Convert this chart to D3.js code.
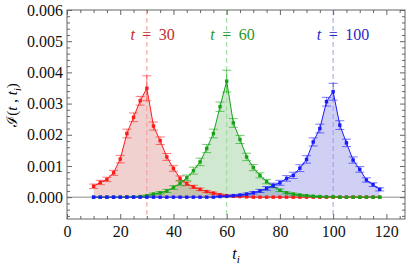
<!DOCTYPE html>
<html>
<head>
<meta charset="utf-8">
<script src="https://cdn.jsdelivr.net/npm/d3@7"></script>
<style>
body { margin: 0; background: #fff; }
text { font-family: "Liberation Serif", "Times New Roman", serif; }
</style>
</head>
<body>
<svg id="chart" width="407" height="265"></svg>
<script>
// values
var ti = [10, 12.5, 15, 17.5, 20, 22.5, 25, 27.5, 30, 32.5, 35, 37.5, 40, 42.5, 45, 47.5, 50, 52.5, 55, 57.5,
          60, 62.5, 65, 67.5, 70, 72.5, 75, 77.5, 80, 82.5, 85, 87.5, 90, 92.5, 95, 97.5, 100, 102.5, 105, 107.5,
          110, 112.5, 115, 117.5]

var redValues = [0.00035, 0.00047, 0.00057, 0.00078, 0.00122, 0.00204, 0.00256, 0.00309, 0.00349, 0.00228,
                 0.00181, 0.00129, 0.00092, 0.00060, 0.00043, 0.00033, 0.00025, 0.00018, 0.00013, 0.00008,
                 0.00005, 0.00003, 0.00002, 0.00001, 0, 0, 0, 0, 0, 0,
                 0, 0, 0, 0, 0, 0, 0, 0, 0, 0,
                 0, 0, 0, 0]
var redErrors = [0.00007, 0.00007, 0.00007, 0.00008, 0.00012, 0.00014, 0.00014, 0.00014, 0.00040, 0.00013,
                 0.00012, 0.00011, 0.00009, 0.00008, 0.00006, 0.00005, 0.00004, 0.00003, 0.00003, 0.00002,
                 0.00002, 0.00001, 0.00001, 0, 0, 0, 0, 0, 0, 0,
                 0, 0, 0, 0, 0, 0, 0, 0, 0, 0,
                 0, 0, 0, 0]

var greenValues = [0, 0, 0, 0, 0, 0.00001, 0.00001, 0.00002, 0.00005, 0.00010,
                   0.00014, 0.00020, 0.00031, 0.00045, 0.00062, 0.00085, 0.00113, 0.00156, 0.00204, 0.00290,
                   0.00372, 0.00238, 0.00185, 0.00129, 0.00095, 0.00070, 0.00050, 0.00035, 0.00022, 0.00014,
                   0.00010, 0.00007, 0.00005, 0.00003, 0.00002, 0.00001, 0.00001, 0, 0, 0,
                   0, 0, 0, 0]
var greenErrors = [0, 0, 0, 0, 0, 0, 0, 0.00001, 0.00002, 0.00003,
                   0.00004, 0.00005, 0.00006, 0.00008, 0.00009, 0.00011, 0.00012, 0.00013, 0.00014, 0.00015,
                   0.00035, 0.00014, 0.00013, 0.00012, 0.00010, 0.00008, 0.00007, 0.00005, 0.00004, 0.00003,
                   0.00003, 0.00002, 0.00002, 0.00001, 0.00001, 0, 0, 0, 0, 0,
                   0, 0, 0, 0]

var blueValues = [0, 0, 0, 0, 0, 0, 0, 0, 0, 0,
                  0, 0, 0, 0, 0, 0, 0, 0, 0, 0.00002,
                  0.00003, 0.00005, 0.00007, 0.00010, 0.00014, 0.00020, 0.00028, 0.00038, 0.00046, 0.00060,
                  0.00070, 0.00093, 0.00121, 0.00177, 0.00220, 0.00306, 0.00338, 0.00231, 0.00174, 0.00119,
                  0.00089, 0.00055, 0.00040, 0.00025]
var blueErrors = [0, 0, 0, 0, 0, 0, 0, 0, 0, 0,
                  0, 0, 0, 0, 0, 0, 0, 0, 0, 0.00001,
                  0.00001, 0.00002, 0.00002, 0.00003, 0.00004, 0.00005, 0.00006, 0.00007, 0.00008, 0.00009,
                  0.00010, 0.00011, 0.00012, 0.00013, 0.00014, 0.00014, 0.00027, 0.00014, 0.00012, 0.00010,
                  0.00009, 0.00007, 0.00006, 0.00005]

var markerTimes = [30, 60, 100]
var markerLabels = ["30", "60", "100"]
var xTicks = [0, 20, 40, 60, 80, 100, 120]
var yTicks = [0, 0.001, 0.002, 0.003, 0.004, 0.005, 0.006]

var dimensions = {
    width: 407,
    height: 265,
    margin: { top: 10, bottom: 46, right: 2, left: 67 }
}

var series = [
    { values: redValues,   errors: redErrors,   line: "#ff1a1a", fill: "rgba(190,40,40,0.22)",  err: "rgba(255,30,30,0.6)",  dash: "#f29a9a", text: "#c42a2a" },
    { values: greenValues, errors: greenErrors, line: "#16a316", fill: "rgba(40,150,40,0.22)", err: "rgba(20,170,20,0.6)",  dash: "#96d896", text: "#2a962a" },
    { values: blueValues,  errors: blueErrors,  line: "#1a1aff", fill: "rgba(40,40,210,0.22)", err: "rgba(30,30,255,0.6)",  dash: "#9a9af2", text: "#2a2ac4" }
]

var svg = d3.select("#chart")

var plotLeft = dimensions.margin.left
var plotRight = dimensions.width - dimensions.margin.right
var plotTop = dimensions.margin.top
var plotBottom = dimensions.height - dimensions.margin.bottom

var xScale = d3.scaleLinear().domain([0, 127]).range([plotLeft, plotRight])
var yScale = d3.scaleLinear().domain([-0.0007, 0.006]).range([plotBottom, plotTop])

// fills
var area = d3.area()
             .x((d, i) => xScale(ti[i]))
             .y0(yScale(0))
             .y1(d => yScale(d))

series.forEach(s => {
    svg.append("path")
       .datum(s.values)
       .attr("d", area)
       .attr("fill", s.fill)
})

// zero line
svg.append("line")
   .attr("x1", plotLeft).attr("x2", plotRight)
   .attr("y1", yScale(0)).attr("y2", yScale(0))
   .attr("stroke", "#8a8a8a")
   .attr("stroke-width", 1)

// dashed markers
markerTimes.forEach((t, k) => {
    svg.append("line")
       .attr("x1", xScale(t)).attr("x2", xScale(t))
       .attr("y1", plotTop).attr("y2", plotBottom)
       .attr("stroke", series[k].dash)
       .attr("stroke-width", 1)
       .attr("stroke-dasharray", "5,3")
})

var line = d3.line()
             .x((d, i) => xScale(ti[i]))
             .y(d => yScale(d))

series.forEach(s => {
    var g = svg.append("g")
    var bars = s.values.map((v, i) => ({ x: ti[i], v: v, e: s.errors[i] })).filter(d => d.e > 0)

    g.selectAll("line.bar")
     .data(bars)
     .enter()
     .append("line")
     .attr("x1", d => xScale(d.x)).attr("x2", d => xScale(d.x))
     .attr("y1", d => yScale(d.v - d.e)).attr("y2", d => yScale(d.v + d.e))
     .attr("stroke", s.err)

    ;[-1, 1].forEach(sign => {
        g.selectAll(null)
         .data(bars)
         .enter()
         .append("line")
         .attr("x1", d => xScale(d.x) - 4.5).attr("x2", d => xScale(d.x) + 4.5)
         .attr("y1", d => yScale(d.v + sign * d.e)).attr("y2", d => yScale(d.v + sign * d.e))
         .attr("stroke", s.err)
    })

    g.append("path")
     .datum(s.values)
     .attr("d", line)
     .attr("fill", "none")
     .attr("stroke", s.line)
     .attr("stroke-width", 1)

    g.selectAll("rect")
     .data(s.values)
     .enter()
     .append("rect")
     .attr("x", (d, i) => xScale(ti[i]) - 1.7)
     .attr("y", d => yScale(d) - 1.7)
     .attr("width", 3.4)
     .attr("height", 3.4)
     .attr("fill", s.line)
})

// t = ... labels
markerTimes.forEach((t, k) => {
    var cx = xScale(t)
    var cy = 40
    var col = series[k].text
    svg.append("text").attr("x", cx - 12).attr("y", cy).attr("text-anchor", "end")
       .style("font-style", "italic").style("font-size", "16px").attr("fill", col).text("t")
    svg.append("text").attr("x", cx).attr("y", cy).attr("text-anchor", "middle")
       .style("font-size", "16px").attr("fill", col).text("=")
    svg.append("text").attr("x", cx + 12).attr("y", cy).attr("text-anchor", "start")
       .style("font-size", "16px").attr("fill", col).text(markerLabels[k])
})

// axes with inward ticks
function styleAxis(g) {
    g.select(".domain").remove()
    g.selectAll("line").attr("stroke", "#666")
    g.selectAll("text").style("font-size", "16px").style("font-family", "Liberation Serif, serif").attr("fill", "#111")
}

var xMinor = d3.range(0, 128, 5).filter(v => v % 20 != 0)
var yMinor = d3.range(-6, 61, 2).map(v => v / 10000).filter(v => Math.abs(v * 1000 - Math.round(v * 1000)) > 1e-9)

svg.append("g").attr("transform", `translate(0,${plotBottom})`)
   .call(d3.axisBottom(xScale).tickValues(xTicks).tickSizeInner(-5).tickSizeOuter(0).tickPadding(7).tickFormat(d3.format("d")))
   .call(styleAxis)
svg.append("g").attr("transform", `translate(0,${plotBottom})`)
   .call(d3.axisBottom(xScale).tickValues(xMinor).tickSizeInner(-3).tickSizeOuter(0).tickFormat(""))
   .call(styleAxis)
svg.append("g").attr("transform", `translate(0,${plotTop})`)
   .call(d3.axisTop(xScale).tickValues(xTicks).tickSizeInner(-5).tickSizeOuter(0).tickFormat(""))
   .call(styleAxis)
svg.append("g").attr("transform", `translate(0,${plotTop})`)
   .call(d3.axisTop(xScale).tickValues(xMinor).tickSizeInner(-3).tickSizeOuter(0).tickFormat(""))
   .call(styleAxis)

svg.append("g").attr("transform", `translate(${plotLeft},0)`)
   .call(d3.axisLeft(yScale).tickValues(yTicks).tickSizeInner(-5).tickSizeOuter(0).tickPadding(4).tickFormat(d3.format(".3f")))
   .call(styleAxis)
svg.append("g").attr("transform", `translate(${plotLeft},0)`)
   .call(d3.axisLeft(yScale).tickValues(yMinor).tickSizeInner(-3).tickSizeOuter(0).tickFormat(""))
   .call(styleAxis)
svg.append("g").attr("transform", `translate(${plotRight},0)`)
   .call(d3.axisRight(yScale).tickValues(yTicks).tickSizeInner(-5).tickSizeOuter(0).tickFormat(""))
   .call(styleAxis)
svg.append("g").attr("transform", `translate(${plotRight},0)`)
   .call(d3.axisRight(yScale).tickValues(yMinor).tickSizeInner(-3).tickSizeOuter(0).tickFormat(""))
   .call(styleAxis)

// frame
svg.append("rect")
   .attr("x", plotLeft).attr("y", plotTop)
   .attr("width", plotRight - plotLeft).attr("height", plotBottom - plotTop)
   .attr("fill", "none")
   .attr("stroke", "#666")
   .attr("stroke-width", 1)

// axis titles
var xt = svg.append("text")
            .attr("x", (plotLeft + plotRight) / 2)
            .attr("y", 259)
            .attr("text-anchor", "middle")
            .style("font-size", "16px")
xt.append("tspan").style("font-style", "italic").text("t")
xt.append("tspan").style("font-style", "italic").style("font-size", "11px").attr("dy", 4).text("i")

var yt = svg.append("text")
            .attr("transform", "translate(17,105) rotate(-90)")
            .attr("text-anchor", "middle")
            .style("font-size", "15px")
yt.append("tspan").text("ℐ")
yt.append("tspan").text("(")
yt.append("tspan").style("font-style", "italic").text("t")
yt.append("tspan").text(" , ")
yt.append("tspan").style("font-style", "italic").text("t")
yt.append("tspan").style("font-style", "italic").style("font-size", "10px").attr("dy", 4).text("i")
yt.append("tspan").attr("dy", -4).text(")")
</script>
</body>
</html>
